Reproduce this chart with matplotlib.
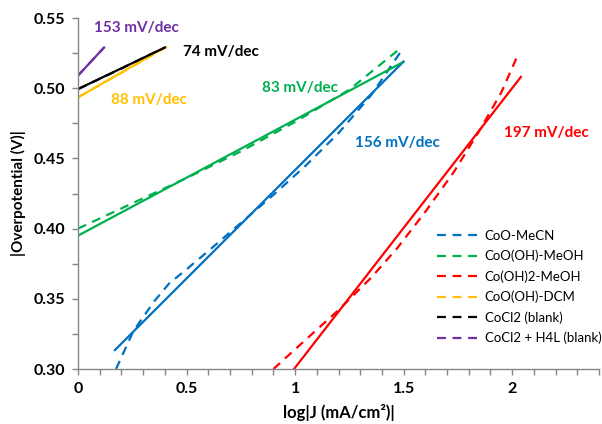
import numpy as np
import matplotlib
matplotlib.use("Agg")
import matplotlib.pyplot as plt

plt.rcParams['font.family'] = ['Lato', 'DejaVu Sans']

# measured data (dashed)
names = ["CoO-MeCN", "CoO(OH)-MeOH", "Co(OH)2-MeOH", "CoO(OH)-DCM", "CoCl2 (blank)", "CoCl2 + H4L (blank)"]
colors = ["#0070C0", "#00B050", "#FF0000", "#FFC000", "#000000", "#7030A0"]

mecn_x = [0.175, 0.255, 0.35, 0.42, 0.5, 0.6, 0.72, 0.9, 1.05, 1.2, 1.35, 1.5]
mecn_y = [0.300, 0.327, 0.348, 0.361, 0.371, 0.384, 0.400, 0.424, 0.445, 0.468, 0.495, 0.529]
meoh_x = [0.0, 0.25, 0.5, 0.75, 1.0, 1.25, 1.49]
meoh_y = [0.400, 0.418, 0.436, 0.455, 0.476, 0.499, 0.529]
coh2_x = [0.90, 1.05, 1.20, 1.35, 1.47, 1.60, 1.73, 1.85, 1.95, 2.03]
coh2_y = [0.300, 0.321, 0.342, 0.365, 0.386, 0.412, 0.440, 0.470, 0.497, 0.525]
dcm_x = [0.0, 0.2, 0.404]
dcm_y = [0.4935, 0.511, 0.529]
blank_x = [0.0, 0.2, 0.40]
blank_y = [0.4994, 0.514, 0.529]
h4l_x = [0.0, 0.06, 0.12]
h4l_y = [0.509, 0.519, 0.529]

# Tafel fits (solid): [x0, x1], [y0, y1]
fits_x = [[0.17, 1.50], [0.0, 1.49], [0.995, 2.04], [0.0, 0.404], [0.0, 0.40], [0.0, 0.12]]
fits_y = [[0.3135, 0.519], [0.395, 0.518], [0.300, 0.508], [0.4935, 0.5293], [0.4994, 0.529], [0.509, 0.529]]

slopes = ["156 mV/dec", "83 mV/dec", "197 mV/dec", "88 mV/dec", "74 mV/dec", "153 mV/dec"]
slope_pos = [(1.276, 0.461), (0.848, 0.500), (1.963, 0.468), (0.152, 0.4916), (0.484, 0.5258), (0.074, 0.543)]

data_x = [mecn_x, meoh_x, coh2_x, dcm_x, blank_x, h4l_x]
data_y = [mecn_y, meoh_y, coh2_y, dcm_y, blank_y, h4l_y]

fig = plt.figure(figsize=(6.02, 4.24), dpi=100)
ax = fig.add_axes([0.1296, 0.1297, 0.8654, 0.8278])

for i in range(len(names)):
    ax.plot(data_x[i], data_y[i], color=colors[i], lw=1.6, dashes=(4, 3), label=names[i])
for i in range(len(names)):
    ax.plot(fits_x[i], fits_y[i], color=colors[i], lw=1.6)
    ax.text(slope_pos[i][0], slope_pos[i][1], slopes[i], color=colors[i],
            fontsize=11, fontweight='bold', va='center', ha='left')

ax.set_xlim(0, 2.4)
ax.set_ylim(0.30, 0.55)
ax.set_xticks([0, 0.5, 1, 1.5, 2])
ax.set_xticklabels(["0", "0.5", "1", "1.5", "2"])
ax.set_xticks(np.arange(0, 2.41, 0.1), minor=True)
ax.set_yticks([0.30, 0.35, 0.40, 0.45, 0.50, 0.55])
ax.set_yticklabels(["0.30", "0.35", "0.40", "0.45", "0.50", "0.55"])
ax.set_yticks(np.arange(0.30, 0.551, 0.025), minor=True)

for s in ['top', 'right']:
    ax.spines[s].set_visible(False)
for s in ['left', 'bottom']:
    ax.spines[s].set_color('#868686')
    ax.spines[s].set_linewidth(1.0)
ax.tick_params(which='both', direction='out', color='#868686', length=4, width=1.0)
ax.tick_params(which='major', labelsize=11.5, pad=5)
for lab in ax.get_xticklabels() + ax.get_yticklabels():
    lab.set_fontweight('bold')

ax.set_xlabel("log|J (mA/cm\u00b2)|", fontsize=12, fontweight='bold', labelpad=6)
ax.set_ylabel("|Overpotential (V)|", fontsize=11, fontweight='bold', labelpad=6)

ax.legend(loc='upper left', bbox_to_anchor=(0.726, 0.4575), bbox_transform=fig.transFigure,
          frameon=False, fontsize=9.5, handlelength=3.1, handletextpad=0.5,
          labelspacing=0.6, borderpad=0, borderaxespad=0)

fig.savefig("out.png", dpi=100)
